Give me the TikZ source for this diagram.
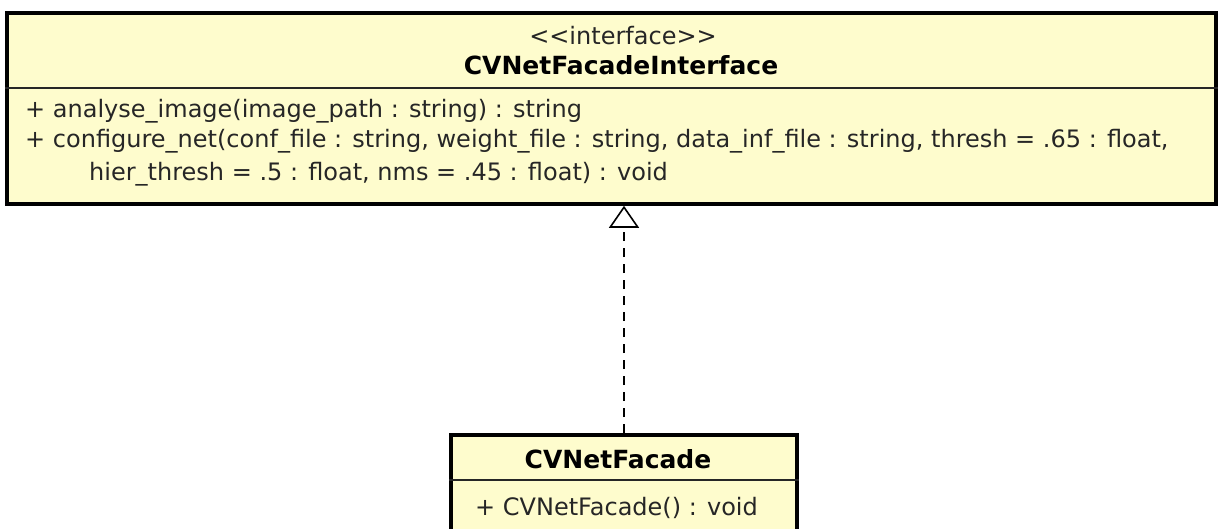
\documentclass[tikz,border=0pt]{standalone}
\usepackage{fontspec}
\setmainfont{DejaVu Sans}
\usetikzlibrary{arrows.meta}
\definecolor{classfill}{HTML}{FEFCCD}
\definecolor{ink}{HTML}{262626}

\tikzset{
  classbox/.style={draw=black, fill=classfill, line width=3.6pt, inner sep=0pt},
  divider/.style={draw=black!85, line width=1.4pt},
  member/.style={anchor=base west, inner sep=0pt, text=ink, font=\fontsize{24}{30}\selectfont},
  stereo/.style={anchor=base, inner sep=0pt, text=ink, font=\fontsize{24}{30}\selectfont},
  classname/.style={anchor=base, inner sep=0pt, text=black, font=\fontsize{25}{30}\selectfont\bfseries},
  realizes/.style={draw=black, line width=2pt, dash pattern=on 9pt off 7pt,
    -{Triangle[open, width=30pt, length=22pt, line width=1.6pt]}}
}

\begin{document}
\begin{tikzpicture}[x=1pt, y=-1pt]
  \useasboundingbox (0,0) rectangle (1220,529);
  \clip (0,0) rectangle (1220,529);

  % interface box
  \node[classbox, minimum width=1209pt, minimum height=191pt] (iface) at (611.5,108.5) {};
  \draw[divider] (iface.west |- 0,88) coordinate (d1) -- (iface.east |- 0,88) coordinate (d2);
  \node[stereo] (st) at (623,45) {{<}{<}interface{>}{>}};
  \node[classname] (ifname) at (621,75) {CVNetFacadeInterface};
  \node[member] (m1) at (25,118) {+ analyse\_image(image\_path : string) : string};
  \node[member] (m2) at (25,148) {+ configure\_net(conf\_file : string, weight\_file : string, data\_inf\_file : string, thresh = .65 : float,};
  \node[member] (m3) at (89,181) {hier\_thresh = .5 : float, nms = .45 : float) : void};

  % implementing class
  \node[classbox, minimum width=346pt, minimum height=110pt] (fac) at (624,490) {};
  \draw[divider] (fac.west |- 0,480) coordinate (d3) -- (fac.east |- 0,480) coordinate (d4);
  \node[classname] (facname) at (618,468) {CVNetFacade};
  \node[member] (m4) at (475,515) {+ CVNetFacade() : void};

  % realization
  \draw[realizes] (fac.north) -- (fac.north |- iface.south);
\end{tikzpicture}
\end{document}
